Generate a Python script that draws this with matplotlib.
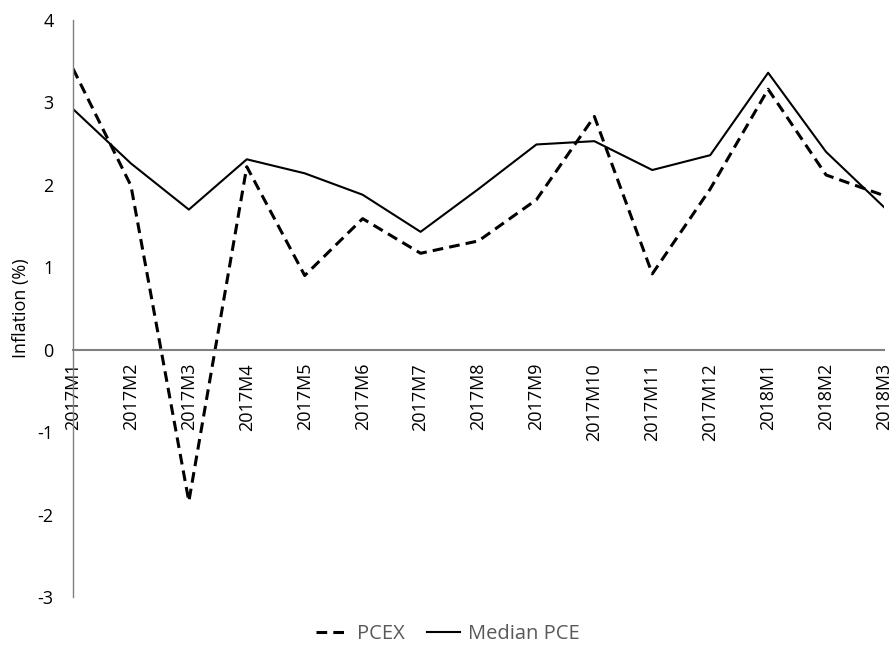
import matplotlib.pyplot as plt

months = ["2017M1", "2017M2", "2017M3", "2017M4", "2017M5", "2017M6", "2017M7",
          "2017M8", "2017M9", "2017M10", "2017M11", "2017M12", "2018M1", "2018M2", "2018M3"]
pcex = [3.41, 1.99, -1.84, 2.22, 0.90, 1.59, 1.17, 1.32, 1.82, 2.83, 0.92, 1.95, 3.16, 2.12, 1.87]
median_pce = [2.92, 2.26, 1.70, 2.31, 2.14, 1.88, 1.43, 1.95, 2.49, 2.53, 2.18, 2.36, 3.36, 2.40, 1.73]

plt.rcParams['font.family'] = ['Open Sans', 'DejaVu Sans']
plt.rcParams['axes.unicode_minus'] = False

fig = plt.figure(figsize=(8.96, 6.45), dpi=100)
ax = fig.add_axes([73 / 896, 1 - 597 / 645, (884 - 73) / 896, (597 - 20) / 645])

x = list(range(len(months)))
ax.plot(x, pcex, color='black', lw=2.2, linestyle=(0, (3.5, 2)), label='PCEX')
ax.plot(x, median_pce, color='black', lw=1.5, label='Median PCE')

ax.set_xlim(0, len(months) - 1)
ax.set_ylim(-3, 4)
ax.set_yticks(range(-3, 5))

for s in ['top', 'right']:
    ax.spines[s].set_visible(False)
ax.spines['bottom'].set_position(('data', 0))
ax.spines['bottom'].set_color('#808080')
ax.spines['bottom'].set_linewidth(1.5)
ax.spines['left'].set_color('#808080')
ax.spines['left'].set_linewidth(1.0)

ax.set_xticks(x)
ax.set_xticklabels(months, rotation=90, fontsize=13, color='black')
ax.tick_params(axis='x', length=0, pad=9.5)
ax.tick_params(axis='y', length=0, pad=14, labelsize=13, labelcolor='black')

ax.set_ylabel('Inflation (%)', fontsize=13, labelpad=5)

leg = fig.legend(loc='center', bbox_to_anchor=(0.5, 1 - 634 / 645), ncol=2, frameon=False,
                 fontsize=14.5, handlelength=1.65, columnspacing=1.1, handletextpad=0.4,
                 borderaxespad=0, borderpad=0)
for t in leg.get_texts():
    t.set_color('#595959')

fig.savefig('out.png', dpi=100)
